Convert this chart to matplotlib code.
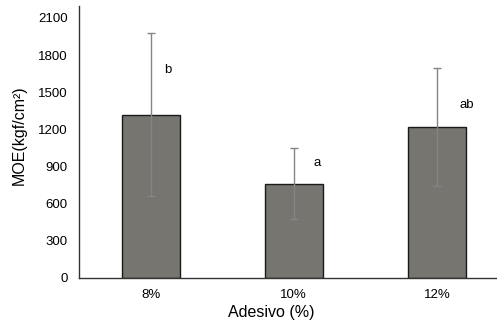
import matplotlib.pyplot as plt
import numpy as np

plt.rcParams['font.family'] = ['Liberation Sans', 'DejaVu Sans']

# Dados
adesivo = ['8%', '10%', '12%']
moe_media = [1320, 762, 1218]
moe_dp = [658, 285, 477]
letras = ['b', 'a', 'ab']
letras_y = [1680, 930, 1400]

x = np.arange(len(adesivo))

fig = plt.figure(figsize=(4.97, 3.24), dpi=100)
ax = fig.add_axes([0.159, 0.142, 0.864, 0.841])

ax.bar(x, moe_media, width=0.405, color='#76756f', edgecolor='#1a1a1a',
       linewidth=1.0, zorder=2)
ax.errorbar(x, moe_media, yerr=moe_dp, fmt='none', ecolor='#858585',
            elinewidth=1.0, capsize=3, capthick=1.0, zorder=3)

offs = [0.12, 0.16, 0.21]
for xi, yi, lt, o in zip(x, letras_y, letras, offs):
    ax.text(xi + o, yi, lt, ha='center', va='center', fontsize=9.5)

ax.set_xlim(-0.5, 2.5)
ax.set_ylim(0, 2200)
ax.set_yticks(np.arange(0, 2101, 300))
ax.set_xticks(x)
ax.set_xticklabels(adesivo)
ax.tick_params(axis='both', length=0, labelsize=9.5, pad=8)
ax.tick_params(axis='y', pad=8)

for s in ['top', 'right']:
    ax.spines[s].set_visible(False)
for s in ['left', 'bottom']:
    ax.spines[s].set_color('#333333')
    ax.spines[s].set_linewidth(1.0)

ax.set_ylabel('MOE(kgf/cm²)', fontsize=11.5, labelpad=6)
ax.yaxis.set_label_coords(-0.122, 0.525)
ax.set_xlabel('Adesivo (%)', fontsize=11.5)
ax.xaxis.set_label_coords(0.447, -0.1)

plt.savefig('out.png', dpi=100)
